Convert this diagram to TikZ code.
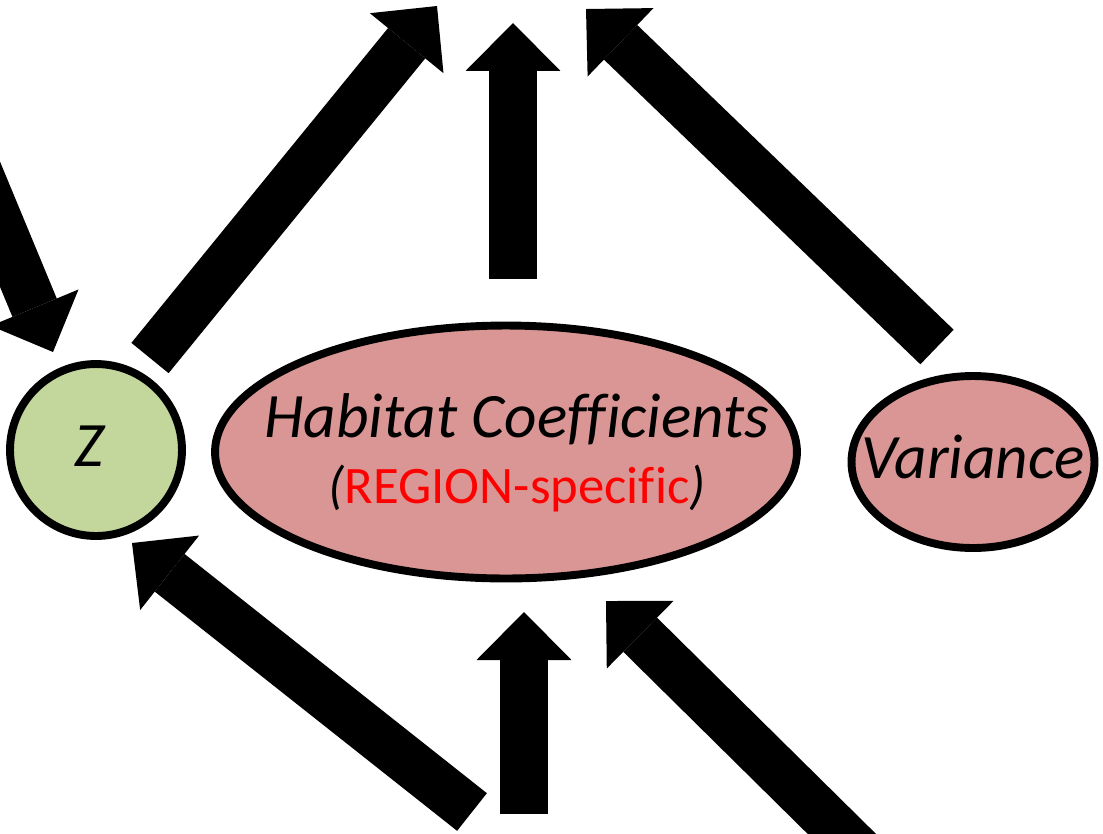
\documentclass[tikz,border=0pt]{standalone}
\usepackage{fontspec}
\setmainfont{Carlito}[Ligatures=NoCommon]
\usetikzlibrary{arrows.meta}
\usetikzlibrary{shapes.geometric}
\usetikzlibrary{calc}
\definecolor{latentgreen}{HTML}{C3D69B}
\definecolor{paramred}{HTML}{D99694}
\tikzset{
  var node/.style = {draw, line width=4.5pt, inner sep=0pt},
  var text/.style = {anchor=base, inner sep=0pt, font=\itshape\fontsize{36}{43}\selectfont},
  sub text/.style = {anchor=base, inner sep=0pt, font=\fontsize{30}{36}\selectfont},
  block arrow/.style = {line width=0.96cm, -{Triangle[length=0.96cm, width=1.9cm, line width=0pt]}}
}

\begin{document}
\begin{tikzpicture}[x=0.02cm, y=-0.02cm]
\useasboundingbox (0,0) rectangle (1103,833);
\clip (0,0) rectangle (1103,833);
\node[var node, circle, fill=latentgreen, minimum size=3.44cm] (z) at (96,450) {};
\node[var node, ellipse, fill=paramred, minimum width=11.64cm, minimum height=5.06cm] (hab) at (506,452) {};
\node[var node, ellipse, fill=paramred, minimum width=4.86cm, minimum height=3.44cm] (var) at (973,462) {};
\node[var text] (z-label) at ($(z.center)+(-7,16)$) {Z};
\node[var text] (hab-label) at ($(hab.center)+(11,-15)$) {Habitat Coefficients};
\node[sub text] (hab-sub) at ($(hab.center)+(11,51)$) {\textit{(}\textcolor{red}{REGION-specific}\textit{)}};
\node[var text] (var-label) at ($(var.center)+(0,16)$) {Variance};

\coordinate (z-out) at (150,358);
\coordinate (z-top) at (437,6);
\coordinate (hab-out) at (513,279);
\coordinate (hab-top) at (513,23);
\coordinate (var-out) at (937,347);
\coordinate (var-top) at (586,9);
\coordinate (z-src) at (-93,0);
\coordinate (z-in) at (53,352);
\coordinate (low-left) at (472,812);
\coordinate (z-in2) at (132,543);
\coordinate (low-mid) at (524,814);
\coordinate (hab-in) at (524,612);
\coordinate (low-right) at (926,917);
\coordinate (hab-in2) at (606,601);

\draw[block arrow] (z-out) -- (z-top);
\draw[block arrow] (hab-out) -- (hab-top);
\draw[block arrow] (var-out) -- (var-top);
\draw[block arrow] (z-src) -- (z-in);
\draw[block arrow] (low-left) -- (z-in2);
\draw[block arrow] (low-mid) -- (hab-in);
\draw[block arrow] (low-right) -- (hab-in2);
\end{tikzpicture}
\end{document}
